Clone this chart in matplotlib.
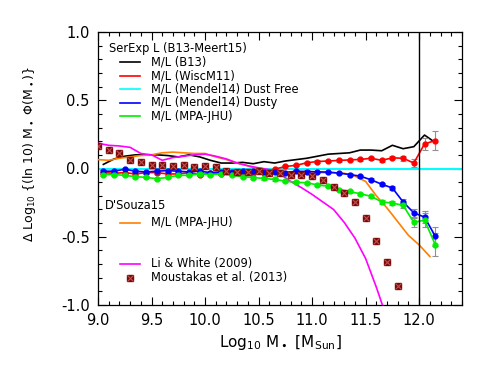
import numpy as np
import matplotlib
matplotlib.use("Agg")
import matplotlib.pyplot as plt
from matplotlib.ticker import MultipleLocator

# ---------------- data ----------------
mass = [9.05, 9.15, 9.25, 9.35, 9.45, 9.55, 9.65, 9.75, 9.85, 9.95,
        10.05, 10.15, 10.25, 10.35, 10.45, 10.55, 10.65, 10.75, 10.85, 10.95,
        11.05, 11.15, 11.25, 11.35, 11.45, 11.55, 11.65, 11.75, 11.85, 11.95,
        12.05, 12.15]

ml_b13 = [0.03, 0.07, 0.09, 0.10, 0.10, 0.10, 0.095, 0.085, 0.10, 0.085,
          0.06, 0.04, 0.04, 0.045, 0.035, 0.05, 0.04, 0.055, 0.065, 0.075,
          0.09, 0.105, 0.11, 0.115, 0.135, 0.135, 0.13, 0.17, 0.145, 0.16,
          0.245, 0.19]

ml_wisc = [-0.03, -0.035, -0.03, -0.04, -0.03, -0.03, -0.04, -0.04, -0.03, -0.045,
           -0.035, -0.04, -0.03, -0.04, -0.03, -0.035, -0.005, 0.015, 0.023, 0.042,
           0.051, 0.055, 0.059, 0.063, 0.066, 0.075, 0.06, 0.078, 0.075, 0.04,
           0.18, 0.205]

ml_dusty = [-0.02, -0.02, -0.005, -0.02, -0.025, -0.02, -0.015, -0.02, -0.025, -0.02,
            -0.03, -0.025, -0.025, -0.02, -0.02, -0.025, -0.025, -0.03, -0.02, -0.022,
            -0.024, -0.027, -0.034, -0.044, -0.056, -0.083, -0.115, -0.143, -0.245, -0.325,
            -0.356, -0.496]

ml_mpa = [-0.045, -0.045, -0.05, -0.06, -0.065, -0.075, -0.065, -0.05, -0.05, -0.04,
          -0.045, -0.04, -0.05, -0.06, -0.066, -0.073, -0.08, -0.093, -0.10, -0.105,
          -0.12, -0.13, -0.155, -0.168, -0.186, -0.203, -0.245, -0.253, -0.27, -0.395,
          -0.378, -0.558]

err = [0.008, 0.008, 0.008, 0.008, 0.008, 0.008, 0.008, 0.008, 0.008, 0.008,
       0.008, 0.008, 0.008, 0.008, 0.008, 0.008, 0.008, 0.008, 0.008, 0.008,
       0.008, 0.008, 0.008, 0.008, 0.01, 0.01, 0.012, 0.012, 0.02, 0.03,
       0.045, 0.07]
err_mpa_last = [0.03, 0.05, 0.085]

mass_dsouza = [9.0, 9.1, 9.2, 9.3, 9.4, 9.5, 9.6, 9.7, 9.8, 9.9,
               10.0, 10.1, 10.2, 10.3, 10.4, 10.5, 10.6, 10.7, 10.8, 10.9,
               11.0, 11.1, 11.2, 11.3, 11.4, 11.5, 11.6, 11.7, 11.8, 11.9,
               12.0, 12.1]
dsouza_mpa = [0.065, 0.06, 0.075, 0.085, 0.095, 0.10, 0.115, 0.12, 0.115, 0.11,
              0.11, 0.085, 0.065, 0.04, 0.02, -0.01, -0.02, -0.022, -0.025, -0.027,
              -0.027, -0.03, -0.03, -0.035, -0.055, -0.095, -0.2, -0.29, -0.39, -0.49,
              -0.56, -0.645]

mass_li = [9.0, 9.1, 9.2, 9.3, 9.4, 9.5, 9.6, 9.7, 9.8, 9.9,
           10.0, 10.1, 10.2, 10.3, 10.4, 10.5, 10.6, 10.7, 10.8, 10.9,
           11.0, 11.1, 11.2, 11.3, 11.4, 11.5, 11.6, 11.7]
li_white = [0.185, 0.17, 0.165, 0.155, 0.11, 0.10, 0.06, 0.08, 0.09, 0.10,
            0.105, 0.09, 0.07, 0.04, 0.02, 0.005, -0.008, -0.04, -0.095, -0.14,
            -0.19, -0.245, -0.30, -0.395, -0.51, -0.66, -0.87, -1.1]

mass_mous = [9.0, 9.1, 9.2, 9.3, 9.4, 9.5, 9.6, 9.7, 9.8, 9.9,
             10.0, 10.1, 10.2, 10.3, 10.4, 10.5, 10.6, 10.7, 10.8, 10.9,
             11.0, 11.1, 11.2, 11.3, 11.4, 11.5, 11.6, 11.7, 11.8]
moustakas = [0.168, 0.139, 0.115, 0.064, 0.046, 0.029, 0.027, 0.017, 0.027, 0.01,
             0.017, 0.01, -0.02, -0.027, -0.022, -0.02, -0.03, -0.032, -0.046, -0.051,
             -0.058, -0.083, -0.136, -0.182, -0.247, -0.363, -0.534, -0.682, -0.86]

mass_limit = 12.0

xticks = [9.0, 9.5, 10.0, 10.5, 11.0, 11.5, 12.0]
yticks = [-1.0, -0.5, 0.0, 0.5, 1.0]

# ---------------- figure ----------------
plt.rcParams['font.family'] = ['DejaVu Sans']
plt.rcParams['mathtext.fontset'] = 'dejavusans'
fig = plt.figure(figsize=(4.91, 3.68), dpi=100)
ax = fig.add_axes([98/491, 63/368, 364/491, 273/368])

lw = 1.2
grey = '#909090'
mous_face = '#7a0a0a'
mous_x = '#c05050'

ax.axhline(0.0, color='#00ffff', lw=1.5, zorder=2)

ax.plot(mass, ml_b13, color='black', lw=lw, zorder=3)

err_mpa = err[:-3] + err_mpa_last
for y, c, e in [(ml_wisc, '#ff0000', err), (ml_dusty, '#0000ff', err),
                (ml_mpa, '#00ee00', err_mpa)]:
    ax.errorbar(mass, y, yerr=e, fmt='none', ecolor=grey, elinewidth=0.8,
                capsize=2.0, capthick=0.8, zorder=3)
    ax.plot(mass, y, color=c, lw=lw, marker='o', ms=3.5, zorder=4)

ax.plot(mass_dsouza, dsouza_mpa, color='#ff8000', lw=lw, zorder=3)
ax.plot(mass_li, li_white, color='#ff00ff', lw=lw, zorder=3)
ax.plot(mass_mous, moustakas, ls='none', marker='s', ms=5, mfc=mous_face,
        mec=mous_face, zorder=5)
ax.plot(mass_mous, moustakas, ls='none', marker='x', ms=4, mec=mous_x,
        mew=0.8, zorder=6)

ax.axvline(mass_limit, color='black', lw=1.0, zorder=5)

ax.set_xlim(9.0, 12.4)
ax.set_ylim(-1.0, 1.0)
ax.set_xticks(xticks)
ax.set_yticks(yticks)
ax.set_xticklabels([f'{v:.1f}' for v in xticks])
ax.set_yticklabels([f'{v:.1f}' for v in yticks])
ax.xaxis.set_minor_locator(MultipleLocator(0.1))
ax.yaxis.set_minor_locator(MultipleLocator(0.1))
ax.tick_params(which='both', direction='in', top=True, right=True, width=0.8)
ax.tick_params(which='major', length=6, labelsize=10.5, pad=6)
ax.tick_params(which='minor', length=3)
for s in ax.spines.values():
    s.set_linewidth(0.9)

ax.set_xlabel(r'Log$_{10}$ M$_\bullet$ [M$_{\rm Sun}$]', fontsize=11, labelpad=3)
ax.set_ylabel(r'$\Delta$ Log$_{10}$ {(ln 10) M$_\bullet$ $\Phi$(M$_\bullet$)}',
              fontsize=9, labelpad=10)
ax.yaxis.set_label_coords(-0.165, 0.553)

# ---------------- legend (manual) ----------------
fs = 8.3
tr = ax.transAxes
ax.text(0.030, 0.941, 'SerExp L (B13-Meert15)', transform=tr, fontsize=fs,
        va='center', ha='left')
rows = [('M/L (B13)', 'black'), ('M/L (WiscM11)', '#ff0000'),
        ('M/L (Mendel14) Dust Free', '#00ffff'), ('M/L (Mendel14) Dusty', '#0000ff'),
        ('M/L (MPA-JHU)', '#00ee00')]
ys = [0.890, 0.840, 0.791, 0.741, 0.692]
for (lab, c), yy in zip(rows, ys):
    ax.plot([0.060, 0.115], [yy, yy], color=c, lw=lw, transform=tr)
    ax.text(0.146, yy, lab, transform=tr, fontsize=fs, va='center', ha='left')

ax.text(0.019, 0.363, "D'Souza15", transform=tr, fontsize=fs, va='center', ha='left')
ax.plot([0.060, 0.115], [0.301, 0.301], color='#ff8000', lw=lw, transform=tr)
ax.text(0.146, 0.301, 'M/L (MPA-JHU)', transform=tr, fontsize=fs, va='center', ha='left')

ax.plot([0.060, 0.115], [0.152, 0.152], color='#ff00ff', lw=lw, transform=tr)
ax.text(0.146, 0.152, 'Li & White (2009)', transform=tr, fontsize=fs, va='center', ha='left')
ax.plot([0.088], [0.100], ls='none', marker='s', ms=5, mfc=mous_face,
        mec=mous_face, transform=tr)
ax.plot([0.088], [0.100], ls='none', marker='x', ms=4, mec=mous_x,
        mew=0.8, transform=tr)
ax.text(0.146, 0.100, 'Moustakas et al. (2013)', transform=tr, fontsize=fs,
        va='center', ha='left')

fig.savefig('out.png', dpi=100)
